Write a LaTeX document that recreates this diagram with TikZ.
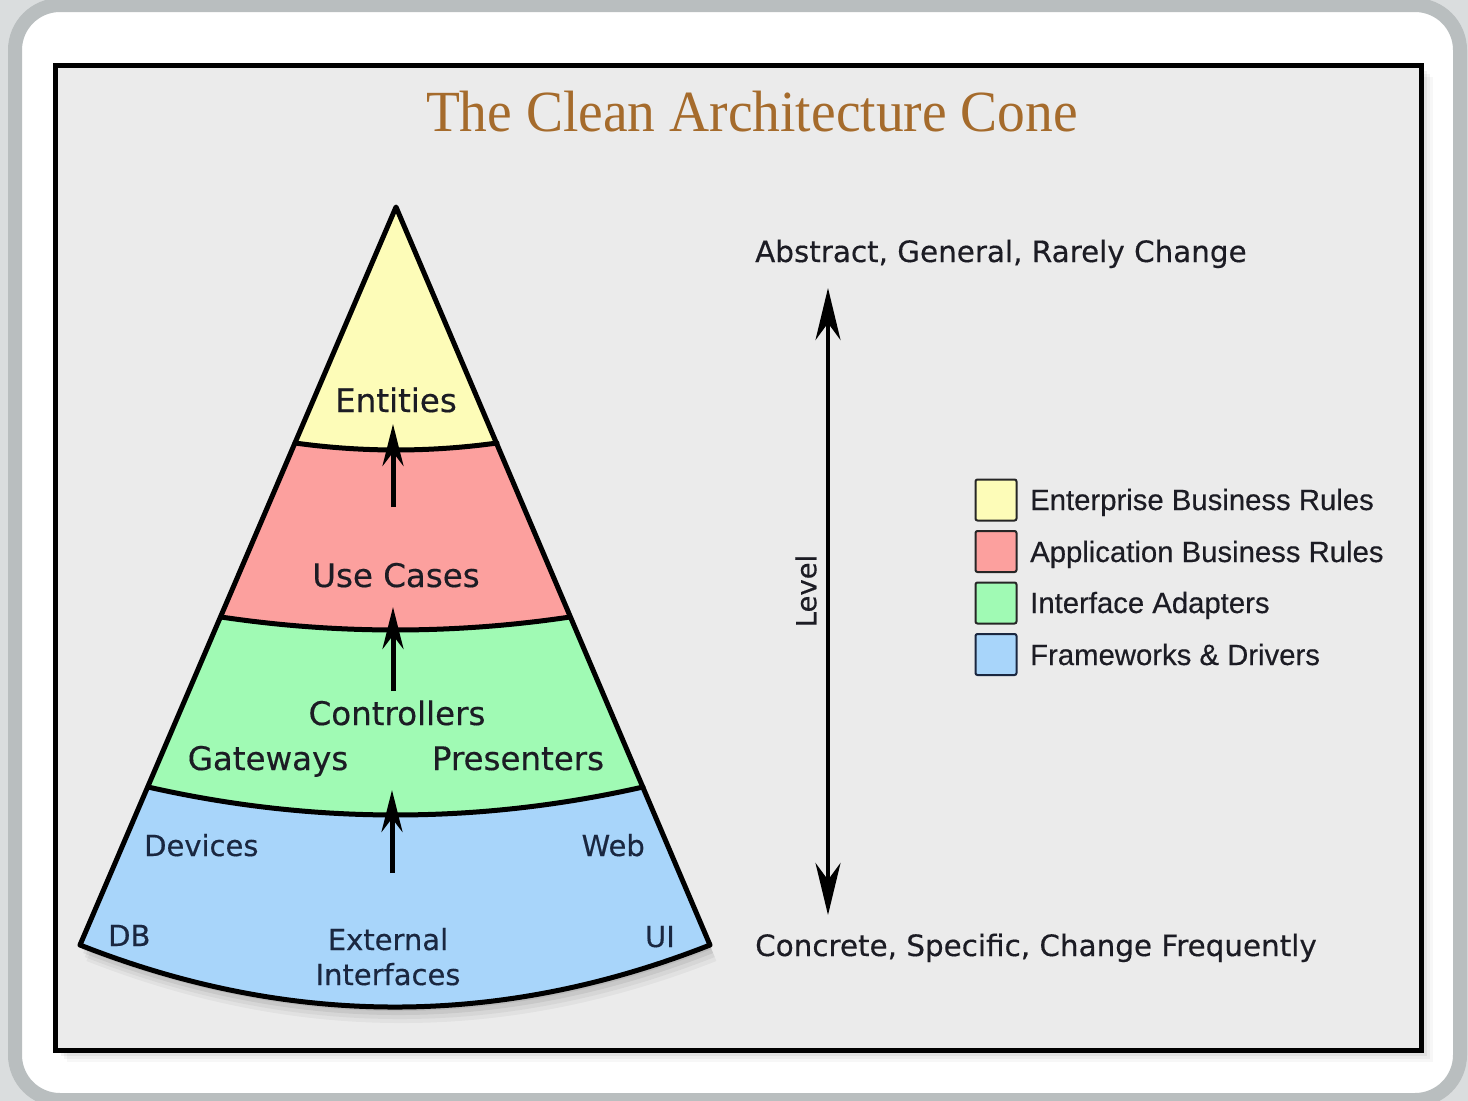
\documentclass[tikz,border=0pt]{standalone}
\usepackage{fontspec}
\newfontfamily\titlefont{Liberation Serif}
\newfontfamily\vfont[FakeBold=0.4]{DejaVu Sans}
\newfontfamily\afont[FakeBold=0.4]{Liberation Sans}
\usetikzlibrary{arrows.meta}
\definecolor{pagebg}{HTML}{DADDDE}
\definecolor{framegray}{HTML}{B9BEBF}
\definecolor{panelbg}{HTML}{EBEBEB}
\definecolor{titlebrown}{HTML}{A56B2C}
\definecolor{cyellow}{HTML}{FDFCB8}
\definecolor{cred}{HTML}{FCA09E}
\definecolor{cgreen}{HTML}{A0FAB4}
\definecolor{cblue}{HTML}{A8D5FA}
\definecolor{txt}{HTML}{1C1C24}
\definecolor{txtblue}{HTML}{1A2740}
\begin{document}
\begin{tikzpicture}[x=1pt,y=-1pt,
  bigtext/.style={font=\vfont\fontsize{32.5}{39}\selectfont, text=txt, inner sep=0pt, anchor=base},
  lowtext/.style={font=\vfont\fontsize{29}{35}\selectfont, text=txtblue, inner sep=0pt, anchor=base},
  sidetext/.style={font=\vfont\fontsize{29.4}{35}\selectfont, text=txt, inner sep=0pt, anchor=base west},
  legtext/.style={font=\afont\fontsize{29.3}{35}\selectfont, text=txt, inner sep=0pt, anchor=base west},
  legbox/.style={draw=black!85, line width=2pt, rounded corners=2pt, minimum size=41pt, inner sep=0pt},
  coneline/.style={draw=black, line width=5pt, line join=round, line cap=round},
  uparrow/.style={draw=black, line width=5pt, -{Stealth[length=42pt,width=21pt]}},
  levelarrow/.style={draw=black, line width=4pt, {Stealth[length=52pt,width=25pt]}-{Stealth[length=52pt,width=25pt]}}
]
\useasboundingbox (0,0) rectangle (1468,1101);
% page and frame
\fill[pagebg] (0,0) rectangle (1468,1101);
\draw[framegray, line width=14pt, fill=white, rounded corners=45pt] (15,5) rectangle (1460,1100);
% panel shadow
\foreach \d/\o in {3/0.05,6/0.05,9/0.04,12/0.03}
  \fill[black, opacity=\o] (55+\d,65+\d) rectangle (1421+\d,1050+\d);
\draw[black, line width=5pt, fill=panelbg] (55,65) rectangle (1421,1050);

% title
\node[font=\titlefont\fontsize{55.5}{60}\selectfont, text=titlebrown, inner sep=0pt, anchor=base, yscale=1.05] (title) at (752,131) {The Clean Architecture Cone};

% cone coordinates
\coordinate (A) at (396,207);
\coordinate (L1) at (295,443); \coordinate (R1) at (497,443);
\coordinate (L2) at (221,617); \coordinate (R2) at (570,617);
\coordinate (L3) at (148,787); \coordinate (R3) at (643,787);
\coordinate (L4) at (80,945);  \coordinate (R4) at (710,945);

% cone shadow
\foreach \d/\o in {4/0.07,8/0.06,12/0.05,16/0.04}
  \fill[black, opacity=\o] ([shift={(\d*0.4,\d)}]A) -- ([shift={(\d*0.4,\d)}]R4) .. controls (500+\d*0.4,1027.7+\d) and (290+\d*0.4,1027.7+\d) .. ([shift={(\d*0.4,\d)}]L4) -- cycle;

% layers
\fill[cyellow] (A) -- (R1) .. controls (429.7,452.3) and (362.3,452.3) .. (L1) -- cycle;
\fill[cred] (L1) .. controls (362.3,452.3) and (429.7,452.3) .. (R1) -- (R2) .. controls (453.7,634.3) and (337.3,634.3) .. (L2) -- cycle;
\fill[cgreen] (L2) .. controls (337.3,634.3) and (453.7,634.3) .. (R2) -- (R3) .. controls (478,824.3) and (313,824.3) .. (L3) -- cycle;
\fill[cblue] (L3) .. controls (313,824.3) and (478,824.3) .. (R3) -- (R4) .. controls (500,1027.7) and (290,1027.7) .. (L4) -- cycle;

% outlines
\draw[coneline] (A) -- (R4) .. controls (500,1027.7) and (290,1027.7) .. (L4) -- cycle;
\draw[coneline] (L1) .. controls (362.3,452.3) and (429.7,452.3) .. (R1);
\draw[coneline] (L2) .. controls (337.3,634.3) and (453.7,634.3) .. (R2);
\draw[coneline] (L3) .. controls (313,824.3) and (478,824.3) .. (R3);

% cone labels
\node[bigtext] (entities) at (396,412) {Entities};
\node[bigtext] (usecases) at (396,587) {Use Cases};
\node[bigtext] (controllers) at (397,725) {Controllers};
\node[bigtext] (gateways) at (268,770) {Gateways};
\node[bigtext] (presenters) at (518,770) {Presenters};
\node[lowtext, anchor=base west] (devices) at (144,856) {Devices};
\node[lowtext, anchor=base east] (web) at (645,856) {Web};
\node[lowtext, anchor=base west] (db) at (108,946) {DB};
\node[lowtext, anchor=base east] (ui) at (675,947) {UI};
\node[lowtext] (external) at (388,950) {External};
\node[lowtext] (interfaces) at (388,985) {Interfaces};

% inner arrows
\coordinate (a1s) at (393,507); \coordinate (a1e) at (393,424);
\coordinate (a2s) at (393,691); \coordinate (a2e) at (393,607);
\coordinate (a3s) at (392,873); \coordinate (a3e) at (392,790);
\draw[uparrow] (a1s) -- (a1e);
\draw[uparrow] (a2s) -- (a2e);
\draw[uparrow] (a3s) -- (a3e);

% level axis
\node[sidetext] (abstract) at (755,262) {Abstract, General, Rarely Change};
\node[sidetext] (concrete) at (755,956) {Concrete, Specific, Change Frequently};
\coordinate (lvtop) at (828,288);
\coordinate (lvbot) at (828,915);
\draw[levelarrow] (lvbot) -- (lvtop);
\node[font=\vfont\fontsize{27.5}{33}\selectfont, text=txt, inner sep=0pt, rotate=90] (level) at (806,591) {Level};

% legend
\node[legbox, fill=cyellow] (k1) at (996,500) {};
\node[legbox, fill=cred] (k2) at (996,551.5) {};
\node[legbox, fill=cgreen] (k3) at (996,603) {};
\node[legbox, fill=cblue, draw=txtblue] (k4) at (996,654.5) {};
\node[legtext] (t1) at (1030,510) {Enterprise Business Rules};
\node[legtext] (t2) at (1030,562) {Application Business Rules};
\node[legtext] (t3) at (1030,613) {Interface Adapters};
\node[legtext] (t4) at (1030,665) {Frameworks \& Drivers};
\end{tikzpicture}
\end{document}
